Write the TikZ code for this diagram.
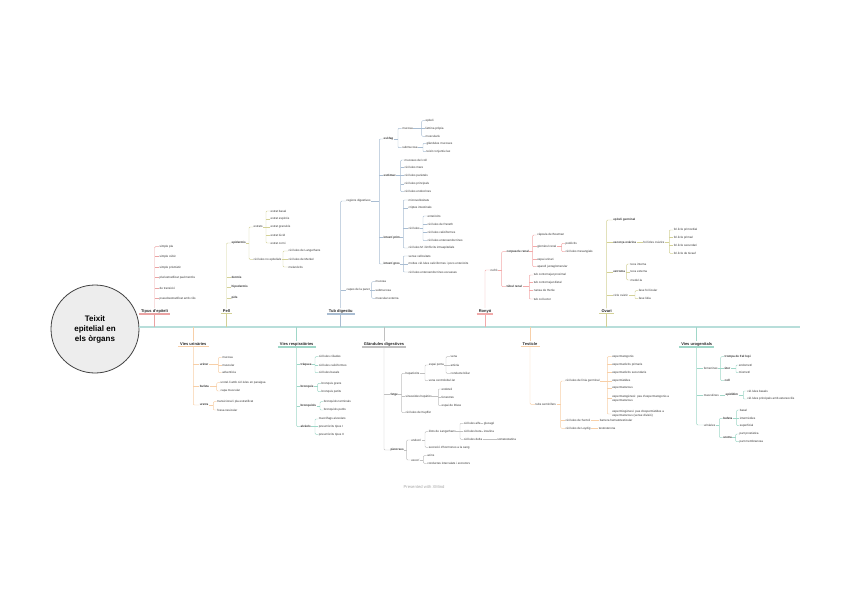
\documentclass[tikz,border=0pt]{standalone}
\usepackage{fontspec}
\setmainfont{Liberation Sans}
\definecolor{cred}{HTML}{EBA3A3}
\definecolor{colive}{HTML}{D3D197}
\definecolor{cblue}{HTML}{A9BDD2}
\definecolor{cpink}{HTML}{F2AAAA}
\definecolor{cpeach}{HTML}{F7CFA8}
\definecolor{cteal}{HTML}{A0D7C8}
\definecolor{cgray}{HTML}{C0C0C0}
\definecolor{cmain}{HTML}{B8DEDA}
\colorlet{brc}{cred}
\newcommand{\mykids}[4]{%
  \coordinate (#1-j) at (#2,0 |- #1.east);
  \draw[tree] (#1.east) -- (#1-j);
  \draw[tree] (#3.west) -| (#1-j) |- (#4.west);}
\newcommand{\mytick}[2]{\draw[tree] (#2.west) -- (#1-j |- #2.west);}
\newcommand{\onekid}[2]{\draw[tree] (#1.east) -- (#2.west);}
\begin{document}
\begin{tikzpicture}[x=1pt,y=-1pt,
  txt/.style={anchor=west, inner sep=0.4pt, font=\fontsize{3}{3.6}\selectfont, text=black!80},
  bt/.style={txt, font=\fontsize{3}{3.6}\selectfont\bfseries},
  two/.style={txt, align=left},
  lab/.style={inner xsep=2pt, inner ysep=0.9pt, font=\fontsize{4}{4.8}\selectfont\bfseries, text=black!85},
  tree/.style={draw=brc, line width=0.45pt, rounded corners=1pt},
  ul/.style={draw=brc, line width=1.1pt},
  mainl/.style={draw=cmain, line width=1.3pt}]
\useasboundingbox (0,0) rectangle (848,599);

% centre and main line
\coordinate (M) at (800,327);
\node[circle, draw=black!75, fill=black!7, line width=0.8pt, minimum size=88pt, inner sep=0pt,
      align=center, font=\fontsize{8}{10}\selectfont\bfseries] (C) at (95,329) {Teixit\\epitelial en\\els òrgans};
\draw[mainl] (C.east |- M) -- (M);

% ---------------- Tipus d'epiteli
\begin{scope}
\colorlet{brc}{cred}
\node[lab] (Lt) at (154.5,311) {Tipus d'epiteli};
\node[txt] (t1) at (159,246.7) {simple pla};
\node[txt] (t2) at (159,256.7) {simple cúbic};
\node[txt] (t3) at (159,267.7) {simple prismàtic};
\node[txt] (t4) at (159,277.7) {pluriestratificat pavimentós};
\node[txt] (t5) at (159,288.3) {de transició};
\node[txt] (t6) at (159,298.3) {pseudoestratificat amb cilis};
\draw[ul] (Lt.south west) -- (Lt.south east);
\draw[tree] (Lt.south) -- (Lt.south |- M);
\draw[tree] (t1.west) -| (Lt.north);
\foreach \c in {t2,t3,t4,t5,t6}{\draw[tree] (\c.west) -- (Lt.north |- \c.west);}
\end{scope}

% ---------------- Pell
\begin{scope}
\colorlet{brc}{colive}
\node[lab] (Lp) at (226.5,311) {Pell};
\node[bt] (p1) at (231,243) {epidermis};
\node[bt] (p2) at (231,277) {dermis};
\node[bt] (p3) at (231,287) {hipodermis};
\node[bt] (p4) at (231,298) {pèls};
\node[txt] (p11) at (253,227) {estrats};
\node[txt] (p12) at (253,259.3) {cèl·lules no epitelials};
\node[txt] (p111) at (270,211) {estrat basal};
\node[txt] (p112) at (270,219) {estrat espinós};
\node[txt] (p113) at (270,227) {estrat granulós};
\node[txt] (p114) at (270,235) {estrat lúcid};
\node[txt] (p115) at (270,243) {estrat corni};
\node[txt] (p121) at (288,251) {cèl·lules de Langerhans};
\node[txt] (p122) at (288,259.3) {cèl·lules de Merkel};
\node[txt] (p123) at (288,267) {melanòcits};
\draw[ul] (Lp.south west) -- (Lp.south east);
\draw[tree] (Lp.south) -- (Lp.south |- M);
\draw[tree] (p1.west) -| (Lp.north);
\foreach \c in {p2,p3,p4}{\draw[tree] (\c.west) -- (Lp.north |- \c.west);}
\mykids{p1}{249}{p11}{p12}
\mykids{p11}{266}{p111}{p115}
\mytick{p11}{p112}\mytick{p11}{p113}\mytick{p11}{p114}
\mykids{p12}{283}{p121}{p123}
\mytick{p12}{p122}
\end{scope}

% ---------------- Tub digestiu
\begin{scope}
\colorlet{brc}{cblue}
\node[lab] (Ld) at (340.7,311) {Tub digestiu};
\node[txt] (d1) at (346,201) {regions digestives};
\node[txt] (d2) at (346,290) {capes de la paret};
\node[bt] (d11) at (383,139) {esòfag};
\node[bt] (d12) at (383,175.7) {estómac};
\node[bt] (d13) at (383,237.7) {intestí prim};
\node[bt] (d14) at (383,264) {intestí gros};
\node[txt] (d111) at (401.7,128.3) {mucosa};
\node[txt] (d112) at (401.7,147.7) {submucosa};
\node[txt] (d1111) at (425,120.7) {epiteli};
\node[txt] (d1112) at (425,128.3) {làmina pròpia};
\node[txt] (d1113) at (425,136.3) {muscularis};
\node[txt] (d1121) at (426,143.3) {glàndules mucoses};
\node[txt] (d1122) at (426,151.7) {teixit conjuntiu lax};
\node[txt] (d121) at (404,160) {mucoses del coll};
\node[txt] (d122) at (404,167.7) {cèl·lules mare};
\node[txt] (d123) at (404,175.7) {cèl·lules parietals};
\node[txt] (d124) at (404,184) {cèl·lules principals};
\node[txt] (d125) at (404,191.7) {cèl·lules endocrines};
\node[txt] (d131) at (408,200) {microvellositats};
\node[txt] (d132) at (408,208) {criptes intestinals};
\node[txt] (d133) at (408,228.3) {cèl·lules};
\node[txt] (d134) at (408,248) {cèl·lules M i limfòcits intraepitelials};
\node[txt] (d1331) at (427,216) {enteròcits};
\node[txt] (d1332) at (427,224) {cèl·lules de Paneth};
\node[txt] (d1333) at (427,232.3) {cèl·lules caliciformes};
\node[txt] (d1334) at (427,240.7) {cèl·lules enteroendocrines};
\node[txt] (d141) at (408,256) {sense vellositats};
\node[txt] (d142) at (408,264) {moltes cèl·lules caliciformes i pocs enteròcits};
\node[txt] (d143) at (408,272) {cèl·lules enteroendocrines escasses};
\node[txt] (d21) at (375,281.7) {mucosa};
\node[txt] (d22) at (375,290) {submucosa};
\node[txt] (d23) at (375,298.3) {muscular externa};
\draw[ul] (Ld.south west) -- (Ld.south east);
\draw[tree] (Ld.south) -- (Ld.south |- M);
\draw[tree] (d1.west) -| (Ld.north);
\draw[tree] (d2.west) -- (Ld.north |- d2.west);
\mykids{d1}{379.3}{d11}{d14}
\mytick{d1}{d12}\mytick{d1}{d13}
\mykids{d11}{398}{d111}{d112}
\mykids{d111}{421.7}{d1111}{d1113}
\mytick{d111}{d1112}
\mykids{d112}{423}{d1121}{d1122}
\mykids{d12}{400.7}{d121}{d125}
\mytick{d12}{d122}\mytick{d12}{d123}\mytick{d12}{d124}
\mykids{d13}{403.3}{d131}{d134}
\mytick{d13}{d132}\mytick{d13}{d133}
\mykids{d133}{423}{d1331}{d1334}
\mytick{d133}{d1332}\mytick{d133}{d1333}
\mykids{d14}{403.3}{d141}{d143}
\mytick{d14}{d142}
\mykids{d2}{371.7}{d21}{d23}
\mytick{d2}{d22}
\end{scope}

% ---------------- Ronyó
\begin{scope}
\colorlet{brc}{cpink}
\node[lab] (Lr) at (485,311) {Ronyó};
\node[txt] (r1) at (490,270) {nefró};
\node[bt] (r11) at (506,251.7) {corpuscle renal};
\node[bt] (r12) at (506,286.7) {túbul renal};
\node[txt] (r111) at (536.7,235) {càpsula de Bowman};
\node[txt] (r112) at (536.7,246.7) {glomèrul renal};
\node[txt] (r113) at (536.7,259.3) {espai urinari};
\node[txt] (r114) at (536.7,266.7) {aparell juxtaglomerular};
\node[txt] (r1121) at (565,243.3) {podòcits};
\node[txt] (r1122) at (565,251.7) {cèl·lules mesangials};
\node[txt] (r121) at (533.3,275) {tub contornejat proximal};
\node[txt] (r122) at (533.3,282.3) {tub contornejat distal};
\node[txt] (r123) at (533.3,290.7) {nansa de Henle};
\node[txt] (r124) at (533.3,299) {tub col·lector};
\draw[ul] (Lr.south west) -- (Lr.south east);
\draw[tree] (Lr.south) -- (Lr.south |- M);
\draw[tree] (r1.west) -| (Lr.north);
\mykids{r1}{501.7}{r11}{r12}
\mykids{r11}{532.7}{r111}{r114}
\mytick{r11}{r112}\mytick{r11}{r113}
\mykids{r112}{561.7}{r1121}{r1122}
\mykids{r12}{529.3}{r121}{r124}
\mytick{r12}{r122}\mytick{r12}{r123}
\end{scope}

% ---------------- Ovari
\begin{scope}
\colorlet{brc}{colive}
\node[lab] (Lo) at (606.7,311) {Ovari};
\node[bt] (o1) at (612.7,220) {epiteli germinal};
\node[bt] (o2) at (612.7,242.7) {escorça ovàrica};
\node[bt] (o3) at (612.7,272) {estroma};
\node[txt] (o4) at (612.7,295) {cicle ovàric};
\node[txt] (o21) at (642.7,242.7) {fol·licles ovàrics};
\node[txt] (o211) at (673.3,230) {fol·licle primordial};
\node[txt] (o212) at (673.3,237.7) {fol·licle primari};
\node[txt] (o213) at (673.3,245.7) {fol·licle secundari};
\node[txt] (o214) at (673.3,253.3) {fol·licle de Graaf};
\node[txt] (o31) at (630,264) {teca interna};
\node[txt] (o32) at (630,272) {teca externa};
\node[txt] (o33) at (630,280) {medul·la};
\node[txt] (o41) at (638.3,290.7) {fase fol·licular};
\node[txt] (o42) at (638.3,298.7) {fase lútia};
\draw[ul] (Lo.south west) -- (Lo.south east);
\draw[tree] (Lo.south) -- (Lo.south |- M);
\draw[tree] (o1.west) -| (Lo.north);
\foreach \c in {o2,o3,o4}{\draw[tree] (\c.west) -- (Lo.north |- \c.west);}
\onekid{o2}{o21}
\mykids{o21}{669.3}{o211}{o214}
\mytick{o21}{o212}\mytick{o21}{o213}
\mykids{o3}{626.7}{o31}{o33}
\mytick{o3}{o32}
\mykids{o4}{635}{o41}{o42}
\end{scope}

% ---------------- Vies urinàries
\begin{scope}
\colorlet{brc}{cpeach}
\node[lab] (Lu) at (193.3,344) {Vies urinàries};
\node[bt] (u1) at (199.3,364.3) {urèter};
\node[bt] (u2) at (199.3,386.7) {bufeta};
\node[bt] (u3) at (199.3,405) {uretra};
\node[txt] (u11) at (221.7,357.3) {mucosa};
\node[txt] (u12) at (221.7,365) {muscular};
\node[txt] (u13) at (221.7,372.7) {adventícia};
\node[txt] (u21) at (220,382.7) {urotel·li amb cèl·lules en paraigua};
\node[txt] (u22) at (220,391) {capa muscular};
\node[txt] (u31) at (216.7,401.7) {transicional i pla estratificat};
\node[txt] (u32) at (216.7,410) {fossa navicular};
\draw[ul] (Lu.south west) -- (Lu.south east);
\draw[tree] (Lu.north |- M) -- (Lu.north);
\draw[tree] (Lu.south) |- (u3.west);
\foreach \c in {u1,u2}{\draw[tree] (\c.west) -- (Lu.south |- \c.west);}
\mykids{u1}{218.3}{u11}{u13}
\mytick{u1}{u12}
\mykids{u2}{216.7}{u21}{u22}
\mykids{u3}{213.3}{u31}{u32}
\end{scope}

% ---------------- Vies respiratòries
\begin{scope}
\colorlet{brc}{cteal}
\node[lab] (Lv) at (296.7,344) {Vies respiratòries};
\node[bt] (v1) at (300,364.3) {tràquea};
\node[bt] (v2) at (300,386.7) {bronquis};
\node[bt] (v3) at (300,406) {bronquíols};
\node[bt] (v4) at (300,426.7) {alvèols};
\node[txt] (v11) at (318.3,356.7) {cèl·lules ciliades};
\node[txt] (v12) at (318.3,365) {cèl·lules caliciformes};
\node[txt] (v13) at (318.3,372.7) {cèl·lules basals};
\node[txt] (v21) at (321,383.3) {bronquis grans};
\node[txt] (v22) at (321,391.7) {bronquis petits};
\node[txt] (v31) at (323.3,401.7) {bronquíols terminals};
\node[txt] (v32) at (323.3,410) {bronquíols petits};
\node[txt] (v41) at (318.3,419) {macròfags alveolars};
\node[txt] (v42) at (318.3,426.7) {pneumòcits tipus I};
\node[txt] (v43) at (318.3,434.3) {pneumòcits tipus II};
\draw[ul] (Lv.south west) -- (Lv.south east);
\draw[tree] (Lv.north |- M) -- (Lv.north);
\draw[tree] (Lv.south) |- (v4.west);
\foreach \c in {v1,v2,v3}{\draw[tree] (\c.west) -- (Lv.south |- \c.west);}
\mykids{v1}{315}{v11}{v13}
\mytick{v1}{v12}
\mykids{v2}{317.7}{v21}{v22}
\mykids{v3}{320}{v31}{v32}
\mykids{v4}{315}{v41}{v43}
\mytick{v4}{v42}
\end{scope}

% ---------------- Glàndules digestives
\begin{scope}
\colorlet{brc}{cgray}
\node[lab] (Lg) at (384,344) {Glàndules digestives};
\node[bt] (g1) at (390,394.3) {fetge};
\node[bt] (g2) at (390,450) {pàncrees};
\node[txt] (g11) at (405,373.3) {hepatòcits};
\node[txt] (g12) at (405,396.7) {sinusoides hepàtics};
\node[txt] (g13) at (405,412.7) {cèl·lules de Kupffer};
\node[txt] (g111) at (428.3,365) {espai porta};
\node[txt] (g112) at (428.3,380.7) {vena centrolobul·lar};
\node[txt] (g1111) at (450,356.7) {vena};
\node[txt] (g1112) at (450,365) {artèria};
\node[txt] (g1113) at (450,373.3) {conducte biliar};
\node[txt] (g121) at (441,389) {endoteli};
\node[txt] (g122) at (441,397.3) {fenestres};
\node[txt] (g123) at (441,405.7) {espai de Disse};
\node[txt] (g21) at (410.7,440) {endocrí};
\node[txt] (g22) at (410.7,460) {exocrí};
\node[txt] (g211) at (428.3,431.7) {illots de Langerhans};
\node[txt] (g212) at (428.3,447.3) {secreció d'hormones a la sang};
\node[txt] (g2111) at (463.3,423.3) {cèl·lules alfa};
\node[txt] (g2112) at (463.3,431.7) {cèl·lules beta};
\node[txt] (g2113) at (463.3,439.3) {cèl·lules delta};
\node[txt] (g21111) at (483.3,423.3) {glucagó};
\node[txt] (g21121) at (483.3,431.7) {insulina};
\node[txt] (g21131) at (496.7,439.3) {somatostatina};
\node[txt] (g221) at (426.7,455.7) {acins};
\node[txt] (g222) at (426.7,463.3) {conductes intercalats i excretors};
\draw[ul] (Lg.south west) -- (Lg.south east);
\draw[tree] (Lg.north |- M) -- (Lg.north);
\draw[tree] (Lg.south) |- (g2.west);
\draw[tree] (g1.west) -- (Lg.south |- g1.west);
\mykids{g1}{401.7}{g11}{g13}
\mytick{g1}{g12}
\mykids{g11}{425}{g111}{g112}
\mykids{g111}{446}{g1111}{g1113}
\mytick{g111}{g1112}
\mykids{g12}{438.3}{g121}{g123}
\mytick{g12}{g122}
\mykids{g2}{406.7}{g21}{g22}
\mykids{g21}{425}{g211}{g212}
\mykids{g211}{460}{g2111}{g2113}
\mytick{g211}{g2112}
\onekid{g2111}{g21111}
\onekid{g2112}{g21121}
\onekid{g2113}{g21131}
\mykids{g22}{423.3}{g221}{g222}
\end{scope}

% ---------------- Testicle
\begin{scope}
\colorlet{brc}{cpeach}
\node[lab] (Ls) at (530,344) {Testicle};
\node[txt] (s1) at (535,404.3) {tubs seminífers};
\node[txt] (s11) at (565,381) {cèl·lules de línia germinal};
\node[txt] (s12) at (565,420.7) {cèl·lules de Sertoli};
\node[txt] (s13) at (565,428.3) {cèl·lules de Leydig};
\node[txt] (s111) at (611.7,356.7) {espermatogonis};
\node[txt] (s112) at (611.7,364.3) {espermatòcits primaris};
\node[txt] (s113) at (611.7,372.7) {espermatòcits secundaris};
\node[txt] (s114) at (611.7,381) {espermàtides};
\node[txt] (s115) at (611.7,388.3) {espermatozous};
\node[two] (s116) at (611.7,398.6) {espermatogènesi: pas d'espermatogonis a\\espermatozous};
\node[two] (s117) at (611.7,414) {espermiogènesi: pas d'espermàtides a\\espermatozous (sense divisió)};
\node[txt] (s121) at (599.3,420.7) {barrera hematotesticular};
\node[txt] (s131) at (598.3,428.3) {testosterona};
\draw[ul] (Ls.south west) -- (Ls.south east);
\draw[tree] (Ls.north |- M) -- (Ls.north);
\draw[tree] (Ls.south) |- (s1.west);
\mykids{s1}{560.7}{s11}{s13}
\mytick{s1}{s12}
\mykids{s11}{607.3}{s111}{s117}
\mytick{s11}{s112}\mytick{s11}{s113}\mytick{s11}{s114}\mytick{s11}{s115}\mytick{s11}{s116}
\onekid{s12}{s121}
\onekid{s13}{s131}
\end{scope}

% ---------------- Vies urogenitals
\begin{scope}
\colorlet{brc}{cteal}
\node[lab] (Lw) at (696.7,344) {Vies urogenitals};
\node[txt] (w1) at (703.3,368.3) {femenines};
\node[txt] (w2) at (703.3,395) {masculines};
\node[txt] (w3) at (703.3,425) {urinàries};
\node[bt] (w11) at (724,356.7) {trompa de Fal·lopi};
\node[bt] (w12) at (724,368.3) {úter};
\node[bt] (w13) at (724,380.7) {coll};
\node[txt] (w121) at (738.3,365) {endometri};
\node[txt] (w122) at (738.3,372.7) {miometri};
\node[bt] (w21) at (725,395) {epidídim};
\node[txt] (w211) at (746.7,391) {cèl·lules basals};
\node[txt] (w212) at (746.7,399) {cèl·lules principals amb estereocilis};
\node[bt] (w31) at (722.7,418.3) {bufeta};
\node[bt] (w32) at (722.7,437.7) {uretra};
\node[txt] (w311) at (739.3,410) {basal};
\node[txt] (w312) at (739.3,418.3) {intermèdies};
\node[txt] (w313) at (739.3,425.7) {superficial};
\node[txt] (w321) at (739,434) {part prostàtica};
\node[txt] (w322) at (739,441.7) {part membranosa};
\draw[ul] (Lw.south west) -- (Lw.south east);
\draw[tree] (Lw.north |- M) -- (Lw.north);
\draw[tree] (Lw.south) |- (w3.west);
\foreach \c in {w1,w2}{\draw[tree] (\c.west) -- (Lw.south |- \c.west);}
\mykids{w1}{720.7}{w11}{w13}
\mytick{w1}{w12}
\mykids{w12}{736}{w121}{w122}
\onekid{w2}{w21}
\mykids{w21}{743.3}{w211}{w212}
\mykids{w3}{719.3}{w31}{w32}
\mykids{w31}{736.7}{w311}{w313}
\mytick{w31}{w312}
\mykids{w32}{735.7}{w321}{w322}
\end{scope}

\node[font=\fontsize{4.2}{5}\selectfont, text=black!35] (wm) at (424,486.5) {Presented with XMind};
\end{tikzpicture}
\end{document}
